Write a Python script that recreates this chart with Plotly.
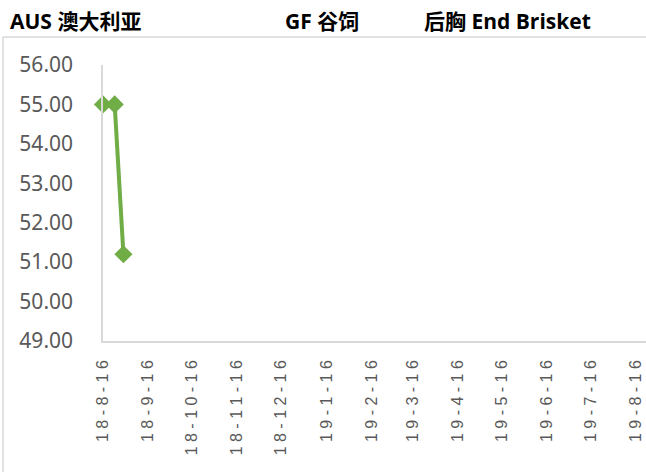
import plotly.graph_objects as go

# Data
dates = ["2018-08-16", "2018-08-24", "2018-08-30"]
prices = [55.0, 55.0, 51.2]

tick_dates = ["2018-08-16", "2018-09-16", "2018-10-16", "2018-11-16", "2018-12-16",
              "2019-01-16", "2019-02-16", "2019-03-16", "2019-04-16", "2019-05-16",
              "2019-06-16", "2019-07-16", "2019-08-16"]
tick_labels = ["18-8-16", "18-9-16", "18-10-16", "18-11-16", "18-12-16",
               "19-1-16", "19-2-16", "19-3-16", "19-4-16", "19-5-16",
               "19-6-16", "19-7-16", "19-8-16"]
y_ticks = [49, 50, 51, 52, 53, 54, 55, 56]

title_parts = ["AUS 澳大利亚", "GF 谷饲", "后胸 End Brisket"]

W, H = 646, 472
L, R, T, B = 103, 0, 65, 131
PW, PH = W - L - R, H - T - B


def px_x(px):
    return (px - L) / PW


def px_y(py):
    return (H - B - py) / PH


spaced = [" ".join(list(t)) for t in tick_labels]

fig = go.Figure()
fig.add_trace(go.Scatter(
    x=dates, y=prices, mode="lines+markers",
    line=dict(color="#70ad47", width=4),
    marker=dict(symbol="diamond", size=14, color="#70ad47"),
    cliponaxis=False, showlegend=False,
))

fig.update_layout(
    width=W, height=H,
    margin=dict(l=L, r=R, t=T, b=B),
    paper_bgcolor="white", plot_bgcolor="white",
    font=dict(family="Noto Sans, Noto Sans CJK SC", color="#595959"),
    xaxis=dict(
        type="date", range=["2018-08-16", "2019-08-23"],
        tickmode="array", tickvals=tick_dates, ticktext=spaced,
        tickangle=-90, showgrid=False, zeroline=False,
        showline=True, linecolor="#d9d9d9", linewidth=1.5,
        ticks="", ticklabelstandoff=11,
        tickfont=dict(family="Liberation Sans", size=16, color="#595959"),
    ),
    yaxis=dict(
        range=[49, 56], tickmode="array", tickvals=y_ticks,
        ticktext=[f"{v:.2f}" for v in y_ticks],
        showgrid=False, zeroline=False,
        showline=True, linecolor="#d9d9d9", linewidth=1.5,
        ticks="", ticklabelstandoff=24,
        tickfont=dict(family="Noto Sans", size=21, color="#595959"),
    ),
)

title_x = [8, 283, 422]
for txt, xp in zip(title_parts, title_x):
    fig.add_annotation(
        text=f"<b>{txt}</b>", xref="paper", yref="paper",
        x=px_x(xp), y=px_y(21), xanchor="left", yanchor="middle",
        showarrow=False,
        font=dict(family="Open Sans, Noto Sans CJK SC", size=21, color="#000000"),
    )

# outer chart frame (top and left edges)
fig.add_shape(type="line", xref="paper", yref="paper",
              x0=px_x(3), x1=px_x(646), y0=px_y(37), y1=px_y(37),
              line=dict(color="#d9d9d9", width=1.5))
fig.add_shape(type="line", xref="paper", yref="paper",
              x0=px_x(3), x1=px_x(3), y0=px_y(37), y1=px_y(472),
              line=dict(color="#d9d9d9", width=1.5))

fig.write_html("out.html", config={"displayModeBar": False},
               post_script="document.body.style.margin='0';document.body.style.overflow='hidden';")
